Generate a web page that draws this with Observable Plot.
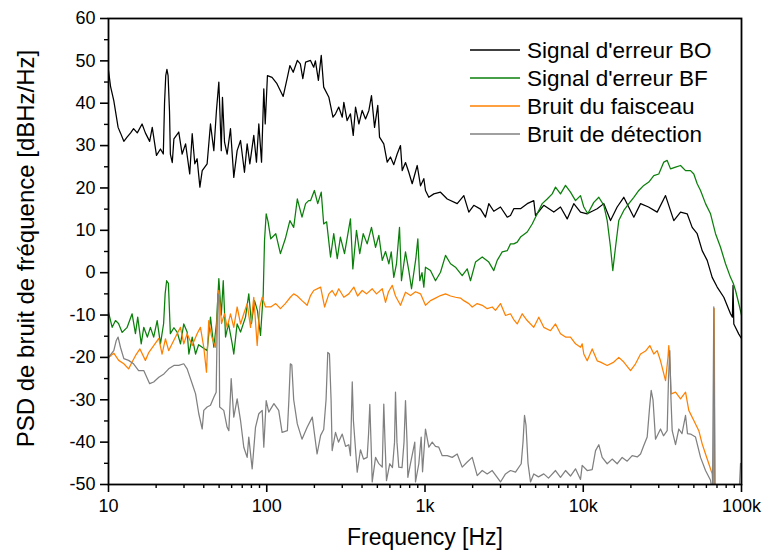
<!DOCTYPE html>
<html>
<head>
<meta charset="utf-8">
<script src="https://cdn.jsdelivr.net/npm/d3@7"></script>
<script src="https://cdn.jsdelivr.net/npm/@observablehq/plot@0.6"></script>
<style>
  body { margin: 0; background: #fff; }
  svg { font-family: "Liberation Sans", Arial, sans-serif; }
</style>
</head>
<body>
<div id="chart"></div>
<script>
// ---- Series names and colours ----
const seriesNames = ["Signal d'erreur BO", "Signal d'erreur BF", "Bruit du faisceau", "Bruit de détection"];
const seriesColors = ["#000000", "#0a7f0a", "#ff8000", "#808080"];

// ---- Axis ticks ----
const xTickValues = [10, 100, 1000, 10000, 100000];
const xTickLabels = ["10", "100", "1k", "10k", "100k"];
const xMinorTicks = [20, 30, 40, 50, 60, 70, 80, 90,
  200, 300, 400, 500, 600, 700, 800, 900,
  2000, 3000, 4000, 5000, 6000, 7000, 8000, 9000,
  20000, 30000, 40000, 50000, 60000, 70000, 80000, 90000];
const yTickValues = [-50, -40, -30, -20, -10, 0, 10, 20, 30, 40, 50, 60];
const yMinorTicks = [-45, -35, -25, -15, -5, 5, 15, 25, 35, 45, 55];

// ---- Signal d'erreur BO (Hz, dBHz/Hz) ----
const boFreq = [
  10, 10.3, 10.8, 11.5, 11.9, 12.5, 13.1, 13.8, 14.4, 15.2, 16.3, 17.1, 18.2, 18.9, 20.1, 21.3, 22.2, 22.6, 23.0, 23.4, 23.8,
  24.3, 24.6, 25.3, 25.9, 27.8, 29.2, 30.7, 32.6, 33.8, 35.1, 36.3, 37.8, 39.1, 42.0, 44.1, 46.3, 48.1, 49.8, 51.6, 52.5,
  54.1, 56.2, 59.0, 61.9, 65.0, 68.3, 72.3, 75.2, 78.2, 82.8, 86.1, 89.1, 92.7, 95.8, 97.8,
  101, 108, 116, 127, 135, 140, 147, 156, 163, 169, 176, 189, 198, 203, 212, 221, 229, 247, 262, 272,
  285, 300, 307, 322, 338, 352, 364, 382, 401, 421, 442, 459, 480, 503, 516, 549, 577, 605, 635, 667,
  700, 718, 753, 790, 830, 893, 937, 983,
  1007, 1057, 1137, 1253, 1382, 1598, 1759, 1892, 2034, 2243, 2411, 2530, 2721, 3000, 3308, 3469, 3640, 4013, 4425, 4869,
  4992, 5632, 6514, 7182, 7919, 8714, 9609,
  10590, 12250, 13490, 14870, 16380, 18040, 20870, 23020, 25840, 29320, 33110, 37350, 41190, 45370, 48790, 52480, 56430, 60700, 65270, 70200,
  77300, 85200, 87600, 88400, 89410, 96160, 100000];
const boPsd = [
  47.7, 44, 40.6, 34.3, 33, 31, 32, 33, 34, 33, 35.1, 33, 31, 34.3, 27.7, 29.2, 28, 40, 46.5, 48, 46.5,
  38, 28, 26, 31.6, 33.2, 28, 30.4, 23.3, 32.8, 25.7, 26.9, 20.2, 24.1, 25.7, 35.1, 28.8, 38.3, 45, 28.8, 41.4,
  30.8, 28, 34, 22.5, 28.8, 31.2, 23.7, 30.4, 25.7, 32.4, 26.1, 35.1, 26.1, 43.4, 35.1,
  46.5, 46.1, 44.6, 41.6, 46.1, 48.9, 47.3, 50.1, 49.3, 45.8, 49.7, 50.1, 48.5, 50, 45.4, 51.3, 43.8, 41.4, 36.7, 37.5,
  39.1, 36.7, 40.2, 35.9, 37.5, 32.4, 39.1, 35.1, 38.3, 36.3, 38.3, 41.8, 34.3, 39.5, 32, 30.4, 26.1, 27.3, 25.5, 28,
  30, 24.1, 26, 23.7, 21, 25.3, 20.5, 22.2,
  19.4, 17.8, 18.6, 19, 17.4, 16.3, 18.2, 14.3, 15.9, 15, 13.1, 16.3, 14.5, 15.5, 13.1, 13.5, 15.1, 15.1, 16.3, 17,
  13.5, 15.9, 14.3, 15.5, 12.7, 16.3, 14.3,
  13.9, 15.1, 16.3, 12.3, 15.5, 17.8, 13.1, 16.3, 15.5, 14.3, 18.2, 12.3, 14.3, 13.9, 10.7, 9.2, 5.2, 2.9, -1.1, -3.4,
  -5.8, -9.7, -10.5, -3, -12.1, -14.5, -15.5];

// ---- Signal d'erreur BF ----
const bfFreq = [
  10.0, 10.55, 11.07, 11.57, 12.2, 13.12, 14.1, 14.8, 15.3, 16.1, 16.7, 17.6, 18.4, 19.3, 20.3, 21.3, 22.3, 22.8, 23.3, 23.9,
  24.6, 25.9, 27.2, 28.5, 29.9, 31.4, 32.2, 33.8, 35.5, 37.1, 39.1, 42.0, 44.1, 46.3, 48.1, 49.8, 51.6, 53.1, 54.9, 57.3,
  60.5, 61.9, 65.0, 68.3, 73.4, 77.0, 80.1, 83.7, 87.4, 91.3, 95.0, 96.8, 99.2,
  102, 106, 114, 122, 131, 140, 148, 156, 167, 176, 184, 189, 200, 210, 221, 229, 239, 253, 265, 279,
  292, 310, 338, 350, 369, 387, 407, 431, 459, 487, 511, 537, 563, 591, 612, 635, 660, 690, 710, 753,
  790, 822, 875, 901, 927, 957, 983,
  1007, 1083, 1165, 1253, 1348, 1450, 1558, 1718, 1849, 1939, 2085, 2300, 2530, 2721, 2859, 3075, 3308, 3469, 3640, 3826,
  4013, 4425, 4758, 5118, 5504, 5919, 6366, 6679, 7182, 7724, 8307, 8934, 9609,
  10080, 10680, 11660, 12540, 13490, 14170, 14870, 15370, 15990, 16770, 18040, 19410, 20870, 22450, 24130, 25960, 27910, 30020, 32290, 33910,
  35600, 38300, 41190, 44300, 47640, 49960, 52480, 55100, 59250, 63730, 68530, 73700, 79260, 85200, 88690, 91680, 96160, 100000];
const bfPsd = [
  -9.3, -12.9, -11.3, -12, -14.1, -12.9, -9.7, -14.4, -10.5, -16.8, -12.9, -15.2, -12.9, -15.2, -11.3, -16.8, -12, -5, -1.9, -2.5,
  -14.4, -13, -14.1, -16.8, -12.1, -14, -19.2, -15.2, -19.2, -17, -17.6, -18.4, -10.5, -17.6, -12, -1.4, -10, -1.9, -15.2, -12,
  -16.8, -19.2, -12.1, -14, -10.5, -5, -12, -6.6, -9, -14.8, -5, 7.6, 13.9,
  12, 8, 9.2, 4.5, 8, 12.3, 10.7, 17.4, 13.1, 16.3, 17, 17, 19.4, 16.3, 19, 11.5, 12, 3.7, 9.2, 3.3,
  8.4, 4.5, 12.7, 0.9, 10, 4.5, 9.2, 6.8, 10.7, 6, 8.8, 2.9, 5, 2.1, 4.9, -1.1, 2, 10.7, -1.9, 4.9,
  0.5, -3.8, 3.3, 8, -1.9, 0, -3.4,
  1.3, 0.5, -1.9, 0.1, 4.1, 2.1, 1.3, -0.7, 0.9, -1.9, 2.5, 3.7, 2.5, 0.5, 2.9, 4.9, 5.2, 6.8, 6.8, 7.2,
  8.4, 9.6, 11.5, 13.9, 16.3, 17.4, 18.6, 20.2, 18.6, 20.6, 19, 17, 18.2,
  15.5, 13.9, 16.6, 17.8, 15.9, 12.3, 6, 0.5, 6, 12.3, 14.7, 16.3, 17.8, 19.4, 20.6, 21.4, 22.9, 23.3, 26.1, 26.5,
  24.5, 24.9, 25.3, 24.1, 24.1, 23.3, 21, 19.4, 16.3, 13.9, 9.2, 6, 2.1, -1.1, -2.5, -4.2, -7.3, -10];

// ---- Bruit du faisceau ----
const fsFreq = [
  10.0, 10.8, 11.6, 12.5, 13.4, 14.1, 14.8, 15.8, 17.1, 18.0, 19.3, 20.8, 21.8, 22.9, 24.0, 24.6, 26.5, 28.5, 29.9, 31.4,
  33.8, 36.3, 38.1, 40.0, 41.6, 43.0, 44.8, 47.4, 49.8, 51.8, 54.1, 56.2, 59.0, 61.9, 65.0, 68.3, 71.6, 75.2, 79.0, 82.8,
  87.0, 90.4, 93.6, 98.2,
  106, 114, 122, 131, 141, 148, 156, 167, 180, 189, 198, 219, 232, 247, 259, 272, 285, 307, 330, 355,
  375, 401, 427, 464, 494, 537, 563, 588, 621, 651, 700, 753, 810, 871, 937,
  1007, 1083, 1165, 1253, 1348, 1450, 1558, 1676, 1759, 1892, 1988, 2138, 2300, 2472, 2659, 2789, 3000, 3226, 3469, 3625,
  3826, 4114, 4425, 4869, 5237, 5632, 6210, 6679, 7182, 7724, 8307, 8934, 9609, 9848,
  10080, 10590, 11390, 12250, 12860, 14170, 15600, 16770, 18040, 19900, 21400, 23020, 24750, 26340, 27910, 29320, 30780, 33110, 34310, 34720,
  35340, 35950, 38300, 41190, 44300, 46450, 49960, 53730, 56430, 59250, 62150, 65270, 66540, 67230, 68020, 100000];
const fsPsd = [
  -20, -19, -20.7, -21.5, -22.7, -21.1, -19.6, -18, -20.7, -18.8, -17.2, -15.5, -19.2, -15.6, -18.4, -17.6, -15.2, -12.9, -16.8, -14.4,
  -17.2, -14.4, -12.9, -17.6, -23.5, -11.3, -15, -17.6, -4.2, -12, -9.7, -12.9, -9.7, -12.9, -8.1, -12.1, -9.7, -7.3, -12.9, -5.8,
  -17.2, -8.1, -5.8, -8.1,
  -8.1, -7.3, -8.5, -7.3, -5.8, -5, -5.5, -6.6, -7.7, -5.4, -4.2, -3.4, -8.1, -5, -4.2, -5.5, -3.8, -5.8, -5, -3.4,
  -5.5, -4.2, -5, -3.8, -5, -3.8, -7, -4.5, -3, -5.5, -7.7, -4.6, -5.4, -4.5, -5,
  -7.7, -6.6, -6, -5.4, -5, -5.5, -5.8, -6, -6.6, -7.3, -8.1, -7.3, -7.7, -8.5, -8.1, -8.9, -7.3, -10.1, -9.7, -11,
  -12.1, -9.7, -11.3, -12.9, -10.5, -12.9, -13.7, -12.1, -14.4, -15.2, -15.2, -16.8, -17.6, -16.8,
  -19.2, -20.8, -18, -20.8, -21.1, -21.9, -21.1, -20, -21.1, -23.1, -21.5, -19.2, -18.5, -17.2, -19.2, -18.4, -20.8, -25.5, -20, -17.2,
  -22, -28.6, -28.2, -29.8, -28.2, -32.5, -34.9, -37.3, -40.4, -42.8, -45.1, -47.5, -52, -8.5, -52, -55];

// ---- Bruit de détection ----
const dtFreq = [
  10.0, 10.8, 11.2, 11.5, 11.9, 12.5, 13.4, 14.4, 15.5, 16.7, 18.2, 19.3, 20.8, 22.4, 24.0, 25.9, 27.8, 29.9, 31.4, 33.8,
  35.5, 37.2, 39.1, 40.0, 42.0, 44.1, 46.3, 47.9, 49.0, 49.9, 50.4, 53.5, 56.2, 57.6, 59.6, 61.9, 65.0, 68.3, 71.6, 75.2,
  77.0, 79.8, 80.9, 84.9, 89.1, 93.6, 95.8, 99.2,
  103, 111, 119, 125, 135, 138, 141, 144, 148, 156, 167, 180, 194, 208, 219, 229, 237, 243, 249, 255,
  259, 272, 284, 300, 315, 330, 338, 347, 353, 373, 391, 409, 431, 440, 448, 456, 464, 487, 509, 537,
  549, 559, 571, 599, 623, 642, 651, 665, 683, 716, 737, 753, 770, 779, 810, 862, 871, 914, 946, 965,
  1007, 1057, 1111, 1165, 1222, 1285, 1382, 1486, 1598, 1718, 1849, 1988, 2138, 2300, 2472, 2659, 2859, 3000, 3226, 3469,
  3732, 4055, 4162, 4254, 4348, 4477, 4642, 4869, 5213, 5632, 6030, 6679, 7182, 7724, 8307, 8934, 9609, 9848,
  10590, 11390, 11960, 12540, 13170, 14170, 15230, 16380, 17620, 18950, 20380, 21930, 23020, 24130, 25350, 26230, 26870, 27590, 28620, 30780,
  32150, 33910, 34570, 35230, 35850, 36480, 38300, 40160, 42070, 44300, 45580, 47640, 51230, 55100, 59250, 63730, 65570, 66840, 68020, 95740,
  98600, 100000];
const dtPsd = [
  -20, -18.4, -16, -15.2, -17.6, -20.3, -20.7, -21.5, -23.1, -23.1, -26.2, -25.8, -24.7, -23.9, -22.7, -21.9, -21.9, -21.5, -22.7, -26.2,
  -28.6, -33.3, -36.9, -32.5, -31.7, -31.3, -29.4, -28.2, -5, -5.5, -31.7, -32.5, -36.5, -37.3, -25, -34.1, -29.8, -34.9, -41.2, -43.6,
  -38.8, -44.3, -46.3, -36.5, -33.3, -32.5, -41.2, -30.2,
  -32.9, -30.9, -32.5, -37.7, -37.3, -30, -21.5, -21.8, -30, -35.7, -39.3, -36.5, -34.1, -42.8, -38.4, -37, -30, -18.8, -19.2, -30,
  -42, -37.7, -40, -38.1, -41, -40.6, -43.2, -25.8, -35, -47.1, -41.8, -44, -43.6, -38, -31.1, -40, -49.4, -43.6, -45, -45.9,
  -31, -40, -49.1, -45.1, -46, -40, -28.2, -40, -45.9, -46, -40, -30.2, -40, -48.3, -45, -40, -49.4, -45.1, -38.8, -47,
  -36.9, -41.2, -40, -41, -41.2, -43.2, -43.2, -43.6, -42.8, -45.9, -44.7, -43.6, -47.9, -46.7, -47.5, -46.7, -48.3, -49.4, -47.5, -46.7,
  -47.1, -45.1, -40, -33.7, -36, -45, -49.4, -47.5, -48.2, -47.5, -48.5, -46.7, -48.3, -46.7, -48, -46.3, -48.8, -45.5,
  -46.7, -46.5, -42, -40.6, -43.6, -45.1, -44, -45.1, -43.6, -44.5, -43.2, -43.5, -42.8, -40.8, -38.8, -32, -27.8, -30, -39.3, -36.9,
  -38.5, -37.3, -25, -18.4, -30, -37.3, -40.6, -36.9, -38, -33.7, -38, -38.1, -38.8, -43.6, -46.7, -49, -52, -8.1, -55, -55,
  -45, -45.5];

// ---- Build tidy rows from the arrays ----
function rows(freqs, vals, name) {
  return freqs.map((f, i) => ({freq: f, psd: vals[i], series: name}));
}
const dataBO = rows(boFreq, boPsd, seriesNames[0]);
const dataBF = rows(bfFreq, bfPsd, seriesNames[1]);
const dataFS = rows(fsFreq, fsPsd, seriesNames[2]);
const dataDT = rows(dtFreq, dtPsd, seriesNames[3]);

const lineOpts = (color) => ({x: "freq", y: "psd", stroke: color, strokeWidth: 1.25, clip: true, curve: "linear"});

const chart = Plot.plot({
  width: 764,
  height: 558,
  marginLeft: 108,
  marginRight: 23,
  marginTop: 18,
  marginBottom: 74,
  x: {type: "log", domain: [10, 100000]},
  y: {domain: [-50, 60]},
  style: {fontFamily: "'Liberation Sans', Arial, sans-serif", color: "black", background: "white", overflow: "visible"},
  marks: [
    Plot.axisX(xMinorTicks, {tickSize: 4, tickFormat: () => "", label: null, strokeWidth: 1.4}),
    Plot.axisX(xTickValues, {tickSize: 8, tickPadding: 7, fontSize: 18, label: null, strokeWidth: 1.6,
      tickFormat: (d) => xTickLabels[xTickValues.indexOf(d)]}),
    Plot.axisY(yMinorTicks, {tickSize: 4, tickFormat: () => "", label: null, strokeWidth: 1.4}),
    Plot.axisY(yTickValues, {tickSize: 8, tickPadding: 5, fontSize: 18, label: null, strokeWidth: 1.6,
      tickFormat: (d) => String(d)}),
    Plot.line(dataBO, lineOpts(seriesColors[0])),
    Plot.line(dataBF, lineOpts(seriesColors[1])),
    Plot.line(dataFS, lineOpts(seriesColors[2])),
    Plot.line(dataDT, lineOpts(seriesColors[3])),
    Plot.frame({stroke: "black", strokeWidth: 1.8}),
    Plot.text(["Frequency [Hz]"], {text: (d) => d, frameAnchor: "bottom", dy: 60, fontSize: 23, textAnchor: "middle"}),
    Plot.text(["PSD de bruit de fréquence [dBHz/Hz]"], {text: (d) => d, frameAnchor: "left", dx: -82, dy: -3, rotate: -90, fontSize: 24, textAnchor: "middle"})
  ]
});

// ---- Legend (inside the frame, top right) ----
const svg = d3.select(chart);
const lg = svg.append("g").attr("class", "legend").attr("text-anchor", "start");
seriesNames.forEach((name, i) => {
  const y = 50 + 28 * i;
  lg.append("line")
    .attr("x1", 470).attr("x2", 520).attr("y1", y).attr("y2", y)
    .attr("stroke", seriesColors[i]).attr("stroke-width", 1.5);
  lg.append("text")
    .attr("x", 527).attr("y", y).attr("dy", "0.35em")
    .attr("text-anchor", "start")
    .attr("font-size", 22.5).attr("fill", "black")
    .text(name);
});

document.getElementById("chart").appendChild(chart);
</script>
</body>
</html>
